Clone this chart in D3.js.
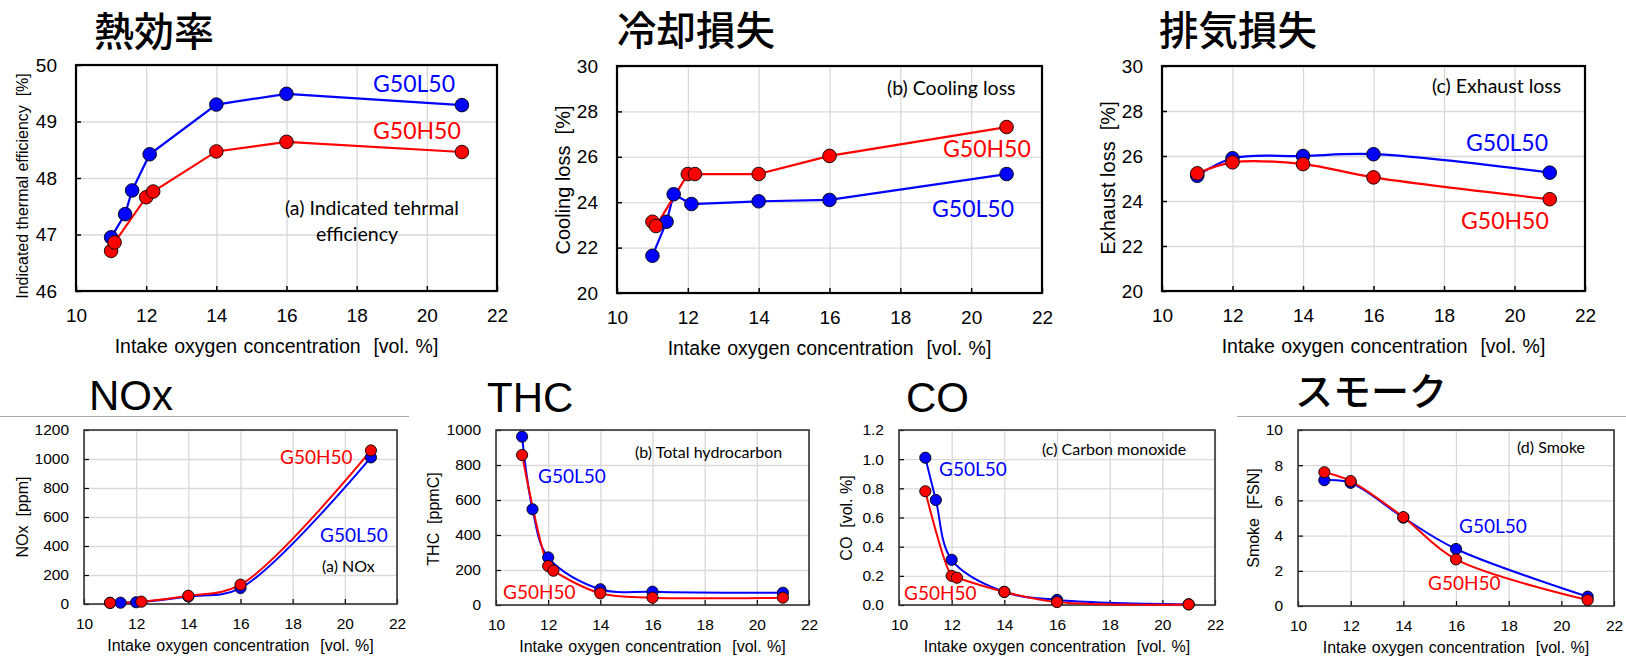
<!DOCTYPE html>
<html>
<head>
<meta charset="utf-8">
<script src="https://cdn.jsdelivr.net/npm/d3@7"></script>
<style>
  body { margin: 0; background: #fff; }
  svg { display: block; }
  text { white-space: pre; }
</style>
</head>
<body>
<svg id="chart" width="1626" height="656"></svg>
<script>
// DATA (G50L50 = blue, G50H50 = red), x = intake oxygen concentration [vol. %]

// (a) indicated thermal efficiency [%]
const effX_L = [11.0, 11.4, 11.6, 12.1, 14, 16, 21];
const effY_L = [46.95, 47.36, 47.78, 48.42, 49.30, 49.49, 49.29];
const effX_H = [11.0, 11.1, 12.0, 12.2, 14, 16, 21];
const effY_H = [46.71, 46.86, 47.66, 47.76, 48.47, 48.64, 48.46];

// (b) cooling loss [%]
const coolX_L = [11.0, 11.4, 11.6, 12.1, 14, 16, 21];
const coolY_L = [21.64, 23.14, 24.35, 23.92, 24.04, 24.10, 25.24];
const coolX_H = [11.0, 11.1, 12.0, 12.2, 14, 16, 21];
const coolY_H = [23.14, 22.95, 25.24, 25.24, 25.24, 26.04, 27.31];

// (c) exhaust loss [%]
const exhX = [11, 12, 14, 16, 21];
const exhY_L = [25.12, 25.90, 26.00, 26.08, 25.26];
const exhY_H = [25.23, 25.72, 25.64, 25.05, 24.08];

// NOx [ppm]
const noxX_L = [11.0, 11.4, 12.0, 14, 16, 21];
const noxY_L = [8, 9, 12, 52, 110, 1011];
const noxX_H = [11.0, 12.2, 14, 16, 21];
const noxY_H = [8, 16, 57, 133, 1059];

// THC [ppmC]
const thcX_L = [11.0, 11.4, 12.0, 14, 16, 21];
const thcY_L = [962, 547, 272, 90, 76, 70];
const thcX_H = [11.0, 12.0, 12.2, 14, 16, 21];
const thcY_H = [857, 223, 196, 67, 42, 42];

// CO [vol. %]
const coX_L = [11.0, 11.4, 12.0, 14, 16, 21];
const coY_L = [1.01, 0.72, 0.31, 0.09, 0.035, 0.005];
const coX_H = [11.0, 12.0, 12.2, 14, 16, 21];
const coY_H = [0.78, 0.20, 0.187, 0.09, 0.02, 0.004];

// smoke [FSN]
const smX = [11, 12, 14, 16, 21];
const smY_L = [7.15, 7.0, 5.02, 3.24, 0.53];
const smY_H = [7.6, 7.1, 5.05, 2.65, 0.34];

const xTicks = [10, 12, 14, 16, 18, 20, 22];
const xTitle = "Intake oxygen concentration  [vol. %]";

const BLUE = "#0000ff";
const RED = "#ff0000";
const sansFont = "'Liberation Sans', Arial, sans-serif";
const labelFont = "Lato, 'Open Sans', sans-serif";
const cjkFont = "'Noto Sans CJK JP', sans-serif";

const zip = (xs, ys) => xs.map((x, i) => ({ x: x, y: ys[i] }));

const svg = d3.select("#chart");

// grey separators under the bottom-row titles
svg.append("line").attr("x1", 0).attr("x2", 409).attr("y1", 416.5).attr("y2", 416.5)
    .attr("stroke", "#a6a6a6").attr("stroke-width", 1);
svg.append("line").attr("x1", 1237).attr("x2", 1626).attr("y1", 416.5).attr("y2", 416.5)
    .attr("stroke", "#a6a6a6").attr("stroke-width", 1);

function drawPanel(p) {
    const big = p.big;
    const x = d3.scaleLinear().domain([10, 22]).range([p.l, p.r]);
    const y = d3.scaleLinear().domain(p.yDomain).range([p.b, p.t]);
    const g = svg.append("g");

    // grid
    g.append("g").attr("transform", `translate(0,${p.b})`)
        .call(d3.axisBottom(x).tickValues(xTicks).tickSize(-(p.b - p.t)).tickFormat(""))
        .call(a => a.select(".domain").remove())
        .call(a => a.selectAll("line").attr("stroke", "#d9d9d9").attr("stroke-width", 1.3));
    g.append("g").attr("transform", `translate(${p.l},0)`)
        .call(d3.axisLeft(y).tickValues(p.yTicks).tickSize(-(p.r - p.l)).tickFormat(""))
        .call(a => a.select(".domain").remove())
        .call(a => a.selectAll("line").attr("stroke", "#d9d9d9").attr("stroke-width", 1.3));

    // axes: inward ticks + labels
    const tickFont = big ? 19 : 15.5;
    const xa = g.append("g").attr("transform", `translate(0,${p.b})`)
        .call(d3.axisBottom(x).tickValues(xTicks).tickSize(-5).tickPadding(big ? 17.5 : 14));
    const ya = g.append("g").attr("transform", `translate(${p.l},0)`)
        .call(d3.axisLeft(y).tickValues(p.yTicks).tickSize(-5).tickPadding(big ? 19 : 15)
            .tickFormat(p.fmt || d3.format("d")));
    [xa, ya].forEach(a => {
        a.select(".domain").remove();
        a.selectAll("line").attr("stroke", "#000").attr("stroke-width", big ? 1.5 : 1.2);
        a.selectAll("text").attr("fill", "#000").style("font-family", sansFont)
            .style("font-size", tickFont + "px");
    });

    // frame
    g.append("rect").attr("x", p.l).attr("y", p.t).attr("width", p.r - p.l).attr("height", p.b - p.t)
        .attr("fill", "none").attr("stroke", big ? "#000" : "#333").attr("stroke-width", big ? 2.2 : 1.6);

    // axis titles
    g.append("text").attr("x", (p.l + p.r) / 2 + (p.xtDx || 0)).attr("y", p.b + (big ? 62 : 47))
        .attr("text-anchor", "middle").style("font-family", sansFont)
        .style("word-spacing", "1px")
        .style("font-size", (big ? 19.5 : 16) + "px").text(xTitle);
    g.append("text").attr("transform", `translate(${p.ytX},${p.ytY}) rotate(-90)`)
        .attr("text-anchor", "middle").style("font-family", sansFont)
        .style("font-size", p.ytSize + "px").text(p.yTitle);

    // series
    const line = d3.line().x(d => x(d.x)).y(d => y(d.y))
        .curve(p.smooth ? d3.curveCatmullRom.alpha(0.5) : d3.curveLinear);
    const r = big ? 6.8 : 5.6;
    p.series.forEach(s => {
        g.append("path").datum(s.data).attr("d", line).attr("fill", "none")
            .attr("stroke", s.color).attr("stroke-width", big ? 2.2 : 2);
    });
    p.series.forEach(s => {
        g.append("g").selectAll("circle").data(s.data).join("circle")
            .attr("cx", d => x(d.x)).attr("cy", d => y(d.y)).attr("r", r)
            .attr("fill", s.color).attr("stroke", "#000").attr("stroke-width", 0.9);
    });

    // big title
    g.append("text").attr("x", p.title.x).attr("y", p.title.y)
        .style("font-family", p.title.cjk ? cjkFont : sansFont)
        .style("font-weight", p.title.cjk ? 500 : 400)
        .style("font-size", p.title.size + "px").text(p.title.text);

    // in-plot labels
    p.labels.forEach(L => {
        g.append("text").attr("x", L.x).attr("y", L.y).attr("fill", L.color || "#000")
            .style("font-family", labelFont).style("font-size", L.size + "px").text(L.text);
    });
}

const panels = [
    {
        big: true, l: 76, r: 497, t: 65, b: 291, yDomain: [46, 50], yTicks: [46, 47, 48, 49, 50],
        yTitle: "Indicated thermal efficiency  [%]", ytX: 28, ytY: 186, ytSize: 16, xtDx: -10,
        smooth: false,
        series: [{ color: BLUE, data: zip(effX_L, effY_L) }, { color: RED, data: zip(effX_H, effY_H) }],
        title: { text: "熱効率", x: 94, y: 46, size: 40, cjk: true },
        labels: [
            { text: "G50L50", x: 373, y: 92, size: 23, color: BLUE },
            { text: "G50H50", x: 373, y: 139, size: 23, color: RED },
            { text: "(a) Indicated tehrmal", x: 285, y: 215, size: 19.5 },
            { text: "efficiency", x: 316, y: 241, size: 19.5 }
        ]
    },
    {
        big: true, l: 617, r: 1042, t: 66, b: 293, yDomain: [20, 30], yTicks: [20, 22, 24, 26, 28, 30],
        yTitle: "Cooling loss  [%]", ytX: 570, ytY: 180, ytSize: 20,
        smooth: false,
        series: [{ color: BLUE, data: zip(coolX_L, coolY_L) }, { color: RED, data: zip(coolX_H, coolY_H) }],
        title: { text: "冷却損失", x: 617, y: 45, size: 39.5, cjk: true },
        labels: [
            { text: "(b) Cooling loss", x: 887, y: 95, size: 19.5 },
            { text: "G50H50", x: 943, y: 157, size: 23, color: RED },
            { text: "G50L50", x: 932, y: 217, size: 23, color: BLUE }
        ]
    },
    {
        big: true, l: 1162, r: 1585, t: 66, b: 291, yDomain: [20, 30], yTicks: [20, 22, 24, 26, 28, 30],
        yTitle: "Exhaust loss  [%]", ytX: 1115, ytY: 178, ytSize: 20, xtDx: 10,
        smooth: true,
        series: [{ color: BLUE, data: zip(exhX, exhY_L) }, { color: RED, data: zip(exhX, exhY_H) }],
        title: { text: "排気損失", x: 1159, y: 45, size: 39.5, cjk: true },
        labels: [
            { text: "(c) Exhaust loss", x: 1432, y: 93, size: 19.5 },
            { text: "G50L50", x: 1466, y: 151, size: 23, color: BLUE },
            { text: "G50H50", x: 1461, y: 229, size: 23, color: RED }
        ]
    },
    {
        big: false, l: 84, r: 397, t: 430, b: 604, yDomain: [0, 1200], yTicks: [0, 200, 400, 600, 800, 1000, 1200],
        yTitle: "NOx  [ppm]", ytX: 28, ytY: 517, ytSize: 16,
        smooth: true,
        series: [{ color: BLUE, data: zip(noxX_L, noxY_L) }, { color: RED, data: zip(noxX_H, noxY_H) }],
        title: { text: "NOx", x: 89, y: 410, size: 42 },
        labels: [
            { text: "G50H50", x: 280, y: 464, size: 19, color: RED },
            { text: "G50L50", x: 320, y: 542, size: 19, color: BLUE },
            { text: "(a) NOx", x: 322, y: 572, size: 16 }
        ]
    },
    {
        big: false, l: 496, r: 809, t: 430, b: 605, yDomain: [0, 1000], yTicks: [0, 200, 400, 600, 800, 1000],
        yTitle: "THC  [ppmC]", ytX: 439, ytY: 519, ytSize: 16,
        smooth: true,
        series: [{ color: BLUE, data: zip(thcX_L, thcY_L) }, { color: RED, data: zip(thcX_H, thcY_H) }],
        title: { text: "THC", x: 487, y: 412, size: 42 },
        labels: [
            { text: "(b) Total hydrocarbon", x: 635, y: 458, size: 16 },
            { text: "G50L50", x: 538, y: 483, size: 19, color: BLUE },
            { text: "G50H50", x: 503, y: 599, size: 19, color: RED }
        ]
    },
    {
        big: false, l: 899, r: 1215, t: 430, b: 605, yDomain: [0, 1.2], yTicks: [0, 0.2, 0.4, 0.6, 0.8, 1.0, 1.2],
        yTitle: "CO  [vol. %]", ytX: 852, ytY: 518, ytSize: 16, fmt: d3.format(".1f"),
        smooth: true,
        series: [{ color: BLUE, data: zip(coX_L, coY_L) }, { color: RED, data: zip(coX_H, coY_H) }],
        title: { text: "CO", x: 906, y: 412, size: 42 },
        labels: [
            { text: "(c) Carbon monoxide", x: 1042, y: 455, size: 16 },
            { text: "G50L50", x: 939, y: 476, size: 19, color: BLUE },
            { text: "G50H50", x: 904, y: 600, size: 19, color: RED }
        ]
    },
    {
        big: false, l: 1298, r: 1614, t: 430, b: 606, yDomain: [0, 10], yTicks: [0, 2, 4, 6, 8, 10],
        yTitle: "Smoke  [FSN]", ytX: 1259, ytY: 518, ytSize: 16,
        smooth: true,
        series: [{ color: BLUE, data: zip(smX, smY_L) }, { color: RED, data: zip(smX, smY_H) }],
        title: { text: "スモーク", x: 1295, y: 405, size: 38, cjk: true },
        labels: [
            { text: "(d) Smoke", x: 1517, y: 453, size: 16 },
            { text: "G50L50", x: 1459, y: 533, size: 19, color: BLUE },
            { text: "G50H50", x: 1428, y: 590, size: 19, color: RED }
        ]
    }
];

panels.forEach(drawPanel);
</script>
</body>
</html>
